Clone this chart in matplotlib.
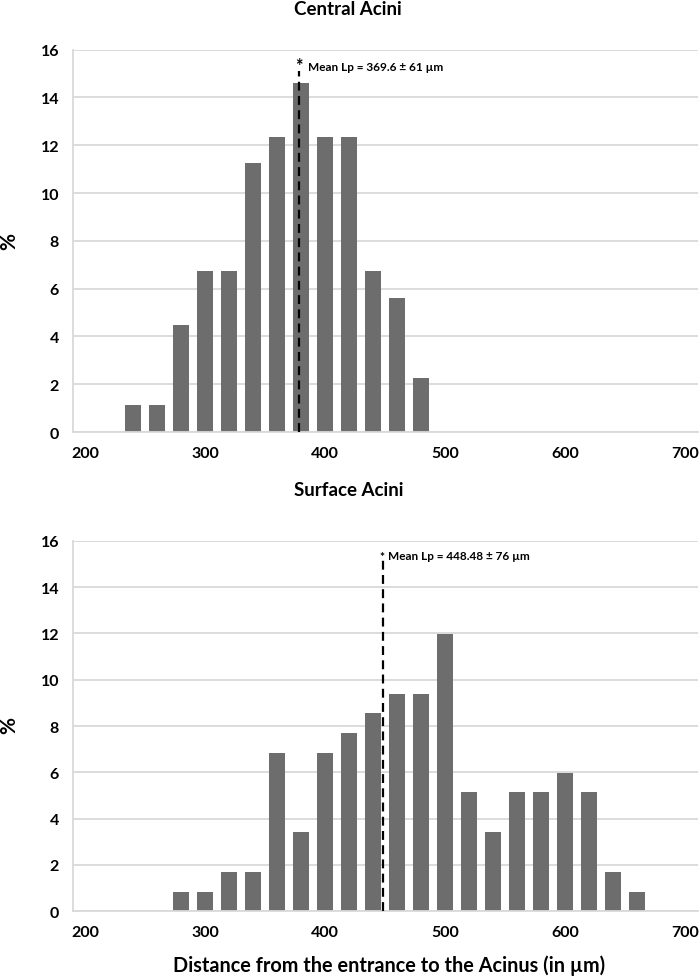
import numpy as np
import matplotlib.pyplot as plt

plt.rcParams['font.family'] = ['Lato', 'DejaVu Sans']
plt.rcParams['font.weight'] = 'bold'

# Central acini: bin position [um] and share [%]
central_bins = [240, 260, 280, 300, 320, 340, 360, 380, 400, 420, 440, 460, 480]
central_pct = [1.12, 1.12, 4.49, 6.74, 6.74, 11.24, 12.36, 14.61, 12.36, 12.36, 6.74, 5.62, 2.25]
central_line = 378
central_label = "Mean Lp = 369.6 \u00b1 61 \u00b5m"

# Surface acini
surface_bins = [280, 300, 320, 340, 360, 380, 400, 420, 440, 460, 480, 500,
                520, 540, 560, 580, 600, 620, 640, 660]
surface_pct = [0.85, 0.85, 1.71, 1.71, 6.84, 3.42, 6.84, 7.69, 8.55, 9.40, 9.40, 11.97,
               5.13, 3.42, 5.13, 5.13, 5.98, 5.13, 1.71, 0.85]
surface_line = 448.48
surface_label = "Mean Lp = 448.48 \u00b1 76 \u00b5m"

xticks = [200, 300, 400, 500, 600, 700]
yticks = [0, 2, 4, 6, 8, 10, 12, 14, 16]

bar_color = '#6d6d6d'
grid_color = '#d9d9d9'

fig = plt.figure(figsize=(7, 9.79), dpi=100)
ax1 = fig.add_axes([0.1043, 0.5577, 0.893, 0.3905])
ax2 = fig.add_axes([0.1043, 0.0681, 0.893, 0.3786])


def style(ax):
    ax.set_xlim(190, 711)
    ax.set_ylim(0, 16)
    ax.set_xticks(xticks)
    ax.set_yticks(yticks)
    ax.tick_params(length=0, labelsize=11.5, pad=10)
    for lab in ax.get_xticklabels() + ax.get_yticklabels():
        lab.set_fontweight('bold')
    ax.grid(axis='y', color=grid_color, linewidth=1.3)
    ax.set_axisbelow(True)
    for s in ['top', 'right']:
        ax.spines[s].set_visible(False)
    for s in ['left', 'bottom']:
        ax.spines[s].set_color(grid_color)
        ax.spines[s].set_linewidth(1.3)


# top chart
style(ax1)
ax1.bar(central_bins, central_pct, width=14, color=bar_color, zorder=2)
ax1.plot([central_line, central_line], [0, 15.1], color='black', lw=1.6,
         dashes=(4, 2.4), zorder=3)
ax1.text(central_line, 15.0, '*', fontsize=13, fontweight='bold', ha='center', va='bottom')
ax1.text(central_line + 7.5, 15.3, central_label, fontsize=8.5, fontweight='bold',
         ha='left', va='center')

# bottom chart
style(ax2)
ax2.bar(surface_bins, surface_pct, width=13.5, color=bar_color, zorder=2)
ax2.plot([surface_line, surface_line], [0, 15.15], color='black', lw=1.6,
         dashes=(4, 2.4), zorder=3)
ax2.text(surface_line - 1, 15.1, '*', fontsize=8.5, fontweight='bold', ha='center', va='bottom')
ax2.text(surface_line + 4, 15.36, surface_label, fontsize=8.5, fontweight='bold',
         ha='left', va='center')

# titles and axis labels
fig.text(0.497, 0.9908, 'Central Acini', fontsize=13.5, fontweight='bold',
         ha='center', va='center')
fig.text(0.498, 0.4985, 'Surface Acini', fontsize=13.5, fontweight='bold',
         ha='center', va='center')
fig.text(0.0129, 0.7538, '%', fontsize=15, fontweight='bold', rotation=90,
         ha='center', va='center')
fig.text(0.0129, 0.2594, '%', fontsize=15, fontweight='bold', rotation=90,
         ha='center', va='center')
fig.text(0.5557, 0.0133, 'Distance from the entrance to the Acinus (in \u00b5m)',
         fontsize=14.3, fontweight='bold', ha='center', va='center')

fig.savefig('out.png', dpi=100)
